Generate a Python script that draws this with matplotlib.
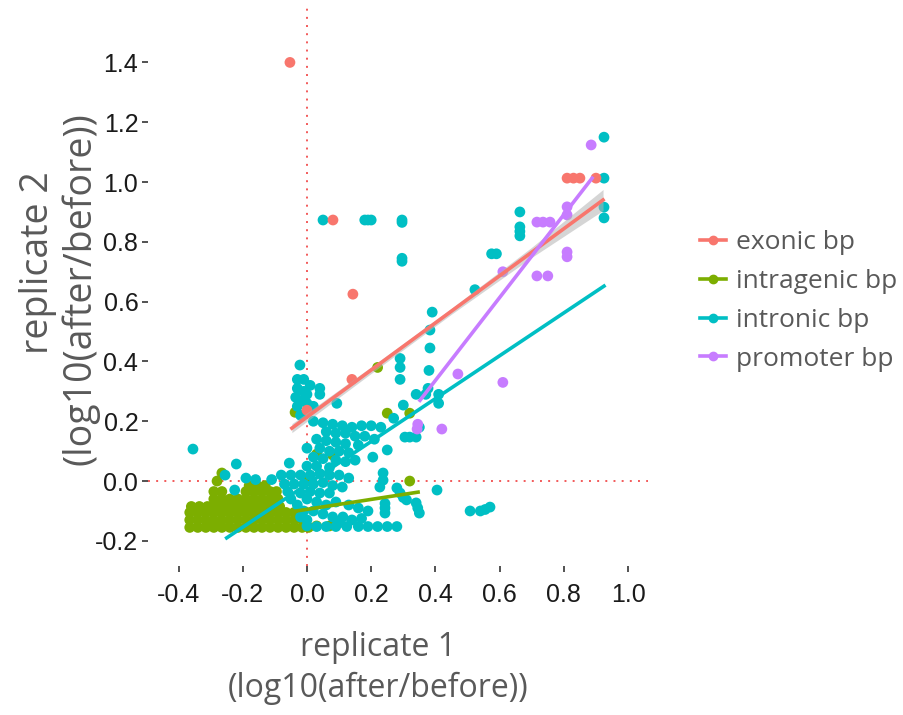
import numpy as np
import matplotlib.pyplot as plt
from matplotlib.lines import Line2D

# groups and colours (ggplot hue palette)
groups = ['exonic bp', 'intragenic bp', 'intronic bp', 'promoter bp']
colors = ['#F8766D', '#7CAE00', '#00BFC4', '#C77CFF']

# points (replicate 1, replicate 2)
exonic = [(-0.053, 1.40), (0.081, 0.873), (0.143, 0.625), (0.81, 1.013), (0.83, 1.013),
          (0.85, 1.013), (0.90, 1.013), (0.14, 0.34), (0.0, 0.237)]

intragenic = [
    (-0.365, -0.155), (-0.34, -0.155), (-0.315, -0.155), (-0.29, -0.155), (-0.265, -0.155),
    (-0.24, -0.155), (-0.215, -0.155), (-0.19, -0.155), (-0.165, -0.155), (-0.14, -0.155),
    (-0.115, -0.155), (-0.09, -0.155), (-0.065, -0.155), (-0.04, -0.155), (-0.015, -0.155),
    (0.005, -0.155), (0.03, -0.15), (0.07, -0.15),
    (-0.365, -0.13), (-0.34, -0.13), (-0.315, -0.13), (-0.29, -0.13), (-0.265, -0.13),
    (-0.24, -0.13), (-0.215, -0.13), (-0.19, -0.13), (-0.165, -0.13), (-0.14, -0.13),
    (-0.115, -0.13), (-0.09, -0.13), (-0.065, -0.13), (-0.04, -0.13), (-0.015, -0.13),
    (-0.365, -0.105), (-0.34, -0.105), (-0.315, -0.105), (-0.29, -0.105), (-0.265, -0.105),
    (-0.24, -0.105), (-0.215, -0.105), (-0.19, -0.105), (-0.165, -0.105), (-0.14, -0.105),
    (-0.115, -0.105), (-0.09, -0.105), (-0.065, -0.105), (-0.04, -0.105),
    (-0.36, -0.085), (-0.335, -0.085), (-0.31, -0.085), (-0.285, -0.085), (-0.26, -0.085),
    (-0.235, -0.085), (-0.21, -0.085), (-0.185, -0.085), (-0.16, -0.085), (-0.135, -0.085),
    (-0.11, -0.085), (-0.085, -0.085),
    (-0.29, -0.06), (-0.265, -0.06), (-0.24, -0.06), (-0.215, -0.06), (-0.19, -0.06),
    (-0.165, -0.06), (-0.14, -0.06), (-0.115, -0.06), (-0.09, -0.06),
    (-0.29, -0.035), (-0.265, -0.035), (-0.19, -0.035), (-0.165, -0.035), (-0.14, -0.035),
    (-0.115, -0.035), (-0.095, -0.035),
    (-0.18, -0.015), (-0.155, -0.015), (-0.13, -0.015),
    (-0.28, 0.0), (-0.265, 0.027), (-0.037, 0.23), (0.22, 0.38), (0.25, 0.227),
    (0.32, 0.227), (0.32, 0.0), (0.0, 0.0), (0.08, 0.087), (0.03, 0.09)]

intronic = [
    (0.925, 1.15), (0.925, 1.013), (0.925, 0.916), (0.925, 0.88),
    (0.663, 0.90), (0.663, 0.85), (0.663, 0.835), (0.663, 0.82),
    (0.575, 0.76), (0.59, 0.76), (0.523, 0.64),
    (0.05, 0.873), (0.18, 0.873), (0.19, 0.873), (0.20, 0.873), (0.296, 0.873), (0.296, 0.865),
    (0.296, 0.745), (0.296, 0.735),
    (0.39, 0.565), (0.383, 0.505), (0.383, 0.445), (0.38, 0.37), (0.377, 0.31),
    (0.29, 0.41), (0.29, 0.38), (0.29, 0.34),
    (0.34, 0.29), (0.37, 0.29), (0.41, 0.29), (0.41, 0.26), (0.30, 0.254), (0.27, 0.21),
    (0.305, 0.147), (0.32, 0.147), (0.34, 0.147), (0.35, 0.18),
    (-0.022, 0.388),
    (-0.03, 0.34), (-0.01, 0.34), (-0.03, 0.31), (-0.01, 0.30), (0.01, 0.32), (-0.035, 0.28),
    (-0.015, 0.27), (0.0, 0.29), (-0.03, 0.25), (0.0, 0.26), (0.02, 0.25), (-0.02, 0.22),
    (0.02, 0.2), (0.04, 0.31), (0.04, 0.29), (0.093, 0.26),
    (0.05, 0.195), (0.08, 0.19), (0.11, 0.185), (0.14, 0.18), (0.17, 0.185), (0.2, 0.185),
    (0.23, 0.18), (0.06, 0.165), (0.09, 0.16), (0.12, 0.16), (0.15, 0.15), (0.18, 0.15),
    (0.21, 0.14), (0.03, 0.14), (0.06, 0.135), (0.09, 0.13), (0.12, 0.125), (0.16, 0.12),
    (0.0, 0.11), (0.04, 0.11), (0.07, 0.10), (0.1, 0.1), (0.13, 0.095), (0.25, 0.104),
    (0.02, 0.08), (0.05, 0.075), (0.09, 0.07), (0.12, 0.065), (0.15, 0.07), (0.205, 0.08),
    (0.0, 0.05), (0.03, 0.05), (0.07, 0.045), (-0.055, 0.06), (-0.22, 0.057), (-0.355, 0.107),
    (-0.255, 0.02),
    (-0.19, 0.01), (-0.16, 0.005), (-0.11, 0.005), (-0.08, 0.02), (-0.05, 0.02),
    (-0.02, 0.02), (0.01, 0.02), (0.04, 0.025), (0.07, 0.02), (0.10, 0.02), (0.13, 0.01),
    (-0.07, -0.01), (-0.04, -0.01), (-0.01, -0.01), (0.02, -0.01), (0.05, -0.005),
    (0.08, -0.015), (0.11, -0.02),
    (-0.225, -0.03), (-0.06, -0.035), (-0.02, -0.04), (0.01, -0.035),
    (0.04, -0.04), (0.07, -0.04),
    (-0.05, -0.06), (-0.03, -0.08), (-0.01, -0.1), (-0.02, -0.12), (0.0, -0.15),
    (0.237, 0.027), (0.237, 0.003), (0.227, -0.02), (0.28, -0.023), (0.29, -0.04),
    (0.30, -0.055), (0.31, -0.063), (0.34, -0.073), (0.345, -0.09), (0.35, -0.107),
    (0.405, -0.03), (0.243, -0.075), (0.243, -0.09), (0.243, -0.107), (0.112, -0.12),
    (0.03, -0.152), (0.06, -0.152), (0.09, -0.152), (0.124, -0.152), (0.16, -0.152),
    (0.19, -0.152), (0.22, -0.152), (0.25, -0.152), (0.28, -0.152),
    (0.0, -0.06), (0.03, -0.07), (0.06, -0.08), (0.09, -0.07), (0.13, -0.08), (0.16, -0.09),
    (0.19, -0.1), (0.02, -0.1), (0.05, -0.11), (0.08, -0.12), (0.14, -0.13), (0.17, -0.125),
    (0.0, -0.13), (0.1, -0.14),
    (0.508, -0.10), (0.54, -0.10), (0.555, -0.095), (0.57, -0.087)]

promoter = [(0.885, 1.124), (0.81, 0.917), (0.81, 0.89), (0.81, 0.766), (0.81, 0.75),
            (0.716, 0.866), (0.735, 0.866), (0.757, 0.866), (0.61, 0.70), (0.716, 0.686),
            (0.75, 0.686), (0.47, 0.358), (0.61, 0.33), (0.42, 0.174), (0.343, 0.174),
            (0.345, 0.19)]

# lm fit lines (start/end)
fit_x = [[-0.047, 0.922], [-0.37, 0.346], [-0.25, 0.925], [0.352, 0.888]]
fit_y = [[0.177, 0.94], [-0.156, -0.037], [-0.19, 0.652], [0.27, 1.013]]

# confidence band of the exonic fit
band_x = [-0.047, 0.2, 0.45, 0.7, 0.922]
band_lo = [0.162, 0.36, 0.558, 0.748, 0.905]
band_hi = [0.192, 0.382, 0.578, 0.782, 0.975]

xticks = [-0.4, -0.2, 0.0, 0.2, 0.4, 0.6, 0.8, 1.0]
yticks = [-0.2, 0.0, 0.2, 0.4, 0.6, 0.8, 1.0, 1.2, 1.4]

W, H = 904, 715
fig = plt.figure(figsize=(W/100, H/100), dpi=100)
ax = fig.add_axes([148/W, 1-566/H, 500/W, 561/H])
ax.set_xlim(-0.495, 1.062)
ax.set_ylim(-0.284, 1.592)
for s in ax.spines.values():
    s.set_visible(False)

ax.axhline(0, color='#f25a5a', lw=1.4, ls=(0, (1, 3.2)), zorder=1)
ax.axvline(0, color='#f25a5a', lw=1.4, ls=(0, (1, 3.2)), zorder=1)

draw_order = [1, 2, 0, 3]
pts = [exonic, intragenic, intronic, promoter]
for i in draw_order:
    p = np.array(pts[i])
    ax.scatter(p[:, 0], p[:, 1], s=60, color=colors[i], edgecolors='none', zorder=2)

ax.fill_between(band_x, band_lo, band_hi, color='#b3b3b3', alpha=0.55, lw=0, zorder=3)
for i in range(4):
    ax.plot(fit_x[i], fit_y[i], color=colors[i], lw=2.6, zorder=4)

ax.set_xticks(xticks)
ax.set_xticklabels(['%.1f' % v for v in xticks])
ax.set_yticks(yticks)
ax.set_yticklabels(['%.1f' % v for v in yticks])
ax.tick_params(axis='both', length=4, width=1.3, color='#444444', labelsize=18,
               labelcolor='#1a1a1a')
ax.tick_params(axis='x', pad=8)
ax.tick_params(axis='y', pad=3)
for lab in ax.get_xticklabels() + ax.get_yticklabels():
    lab.set_family('Liberation Sans')

tcol = '#595959'
fig.text(378/W, 1-648/H, 'replicate 1', ha='center', va='center', fontsize=23,
         color=tcol, family='Open Sans')
fig.text(378/W, 1-688/H, '(log10(after/before))', ha='center', va='center', fontsize=23,
         color=tcol, family='Open Sans')
fig.text(38/W, 1-263/H, 'replicate 2', ha='center', va='center', rotation=90, fontsize=27,
         color=tcol, family='Open Sans')
fig.text(80/W, 1-289/H, '(log10(after/before))', ha='center', va='center', rotation=90,
         fontsize=27, color=tcol, family='Open Sans')

handles = [Line2D([], [], color=c, lw=2.6, marker='o', markersize=6) for c in colors]
fig.legend(handles, groups, loc='center left', bbox_to_anchor=(700/W, 1-301/H),
           frameon=False, prop={'family': 'Open Sans', 'size': 19}, labelcolor=tcol,
           handlelength=1.0, handletextpad=0.35, labelspacing=0.52, borderpad=0,
           borderaxespad=0)

fig.savefig('out.png', dpi=100)
